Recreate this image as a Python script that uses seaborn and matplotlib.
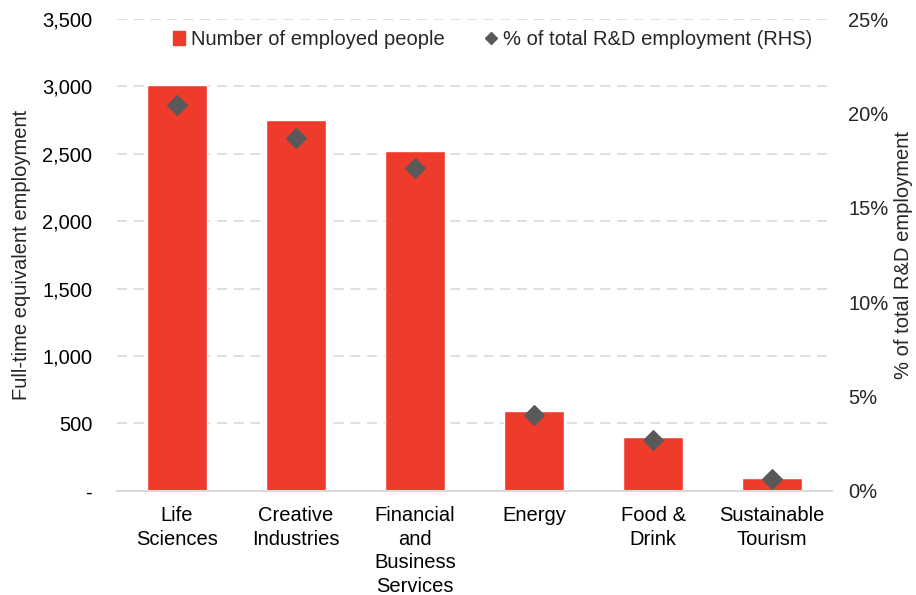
import matplotlib
matplotlib.use("Agg")
import matplotlib.pyplot as plt
from matplotlib.ticker import FuncFormatter
from matplotlib.lines import Line2D
from matplotlib.patches import Patch
import seaborn as sns

categories = [
    "Life\nSciences",
    "Creative\nIndustries",
    "Financial\nand\nBusiness\nServices",
    "Energy",
    "Food &\nDrink",
    "Sustainable\nTourism",
]
employed = [3010, 2750, 2520, 590, 400, 95]
pct_total = [20.45, 18.7, 17.1, 4.0, 2.7, 0.65]

sns.set_theme(style="white")
plt.rcParams["font.family"] = ["Liberation Sans", "DejaVu Sans"]

bar_red = "#EF3B2C"
marker_grey = "#595959"
fs = 14.5

fig = plt.figure(figsize=(9.16, 5.95), dpi=100)
ax = fig.add_axes([0.128, 0.175, 0.780, 0.793])

sns.barplot(x=categories, y=employed, color=bar_red, width=0.5,
            saturation=1, ax=ax, zorder=2)
ax.set_ylim(0, 3500)
ax.set_yticks(range(0, 3501, 500))
ax.yaxis.set_major_formatter(FuncFormatter(lambda v, p: "-" if v == 0 else f"{int(v):,}"))
ax.grid(axis="y", color="#D9D9D9", linestyle=(0, (6, 4)), linewidth=1.2, zorder=0)
ax.set_axisbelow(True)
for s in ["top", "left", "right"]:
    ax.spines[s].set_visible(False)
ax.spines["bottom"].set_color("#D9D9D9")
ax.spines["bottom"].set_linewidth(1.5)
ax.tick_params(axis="y", labelsize=fs, colors="black", length=0, pad=18)
ax.tick_params(axis="x", labelsize=fs, colors="black", length=0, pad=11)
for lbl in ax.get_xticklabels():
    lbl.set_linespacing(1.3)
ax.set_ylabel("Full-time equivalent employment", fontsize=fs, labelpad=8)
ax.set_xlabel("")

ax2 = ax.twinx()
ax2.scatter(range(len(categories)), pct_total, marker="D", s=100,
            color=marker_grey, zorder=3)
ax2.set_ylim(0, 25)
ax2.set_yticks(range(0, 26, 5))
ax2.yaxis.set_major_formatter(FuncFormatter(lambda v, p: f"{int(v)}%"))
for s in ["top", "left", "right", "bottom"]:
    ax2.spines[s].set_visible(False)
ax2.tick_params(axis="y", labelsize=fs, length=0, pad=12)
ax2.set_ylabel("% of total R&D employment", fontsize=fs, labelpad=4)
ax2.grid(False)
ax.set_xlim(-0.5, len(categories) - 0.5)

handles = [
    Patch(color=bar_red, label="Number of employed people"),
    Line2D([], [], marker="D", linestyle="none", color=marker_grey,
           markersize=6, label="% of total R&D employment (RHS)"),
]
ax.legend(handles=handles, loc="upper center", bbox_to_anchor=(0.525, 1.015),
          ncol=2, frameon=False, fontsize=fs, handlelength=0.6,
          handletextpad=0.3, columnspacing=2.0)

fig.savefig("out.png", dpi=100)
